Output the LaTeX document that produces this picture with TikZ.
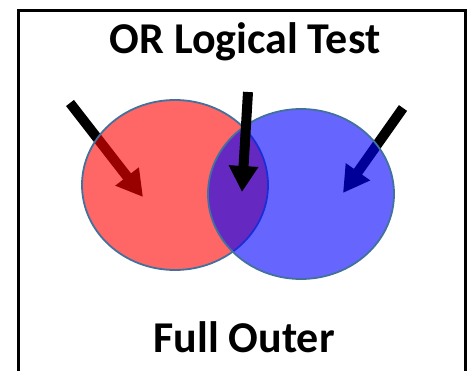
\documentclass[tikz,border=0pt]{standalone}
\usepackage{fontspec}
\setmainfont{Carlito}
\usetikzlibrary{arrows.meta, shapes.geometric}
\definecolor{rimblue}{HTML}{41719C}

\begin{document}
\begin{tikzpicture}[x=1pt, y=-1pt,
    setcircle/.style={ellipse, draw=rimblue, line width=1.8pt, inner sep=0pt, minimum width=186pt, minimum height=170pt},
    pointer/.style={black, line width=10pt, -{Triangle[width=28pt, length=26pt]}},
    caption/.style={font=\bfseries\fontsize{44}{52}\selectfont}]
    \useasboundingbox (0,0) rectangle (469,371);

    % Frame
    \draw[line width=3pt] (18,380) -- (18,11) -- (465,11) -- (465,380);

    % Arrow ends
    \coordinate (lstart) at (70,103);
    \coordinate (lend) at (143,197);
    \coordinate (mstart) at (248,92);
    \coordinate (mend) at (242,192);
    \coordinate (rstart) at (403,108);
    \coordinate (rend) at (343,193);

    % Draw arrows under the sets
    \draw[pointer] (lstart) -- (lend);
    \draw[pointer] (rstart) -- (rend);

    % Draw sets
    \node[setcircle, fill=red, fill opacity=0.6, draw opacity=1] (left) at (175,185) {};
    \node[setcircle, fill=blue, fill opacity=0.6, draw opacity=1] (right) at (301,194) {};

    % Draw arrow on top
    \draw[pointer] (mstart) -- (mend);

    % Labels
    \node[caption] (title) at (245,42) {OR Logical Test};
    \node[caption] (join) at (244,337) {Full Outer};
\end{tikzpicture}
\end{document}
